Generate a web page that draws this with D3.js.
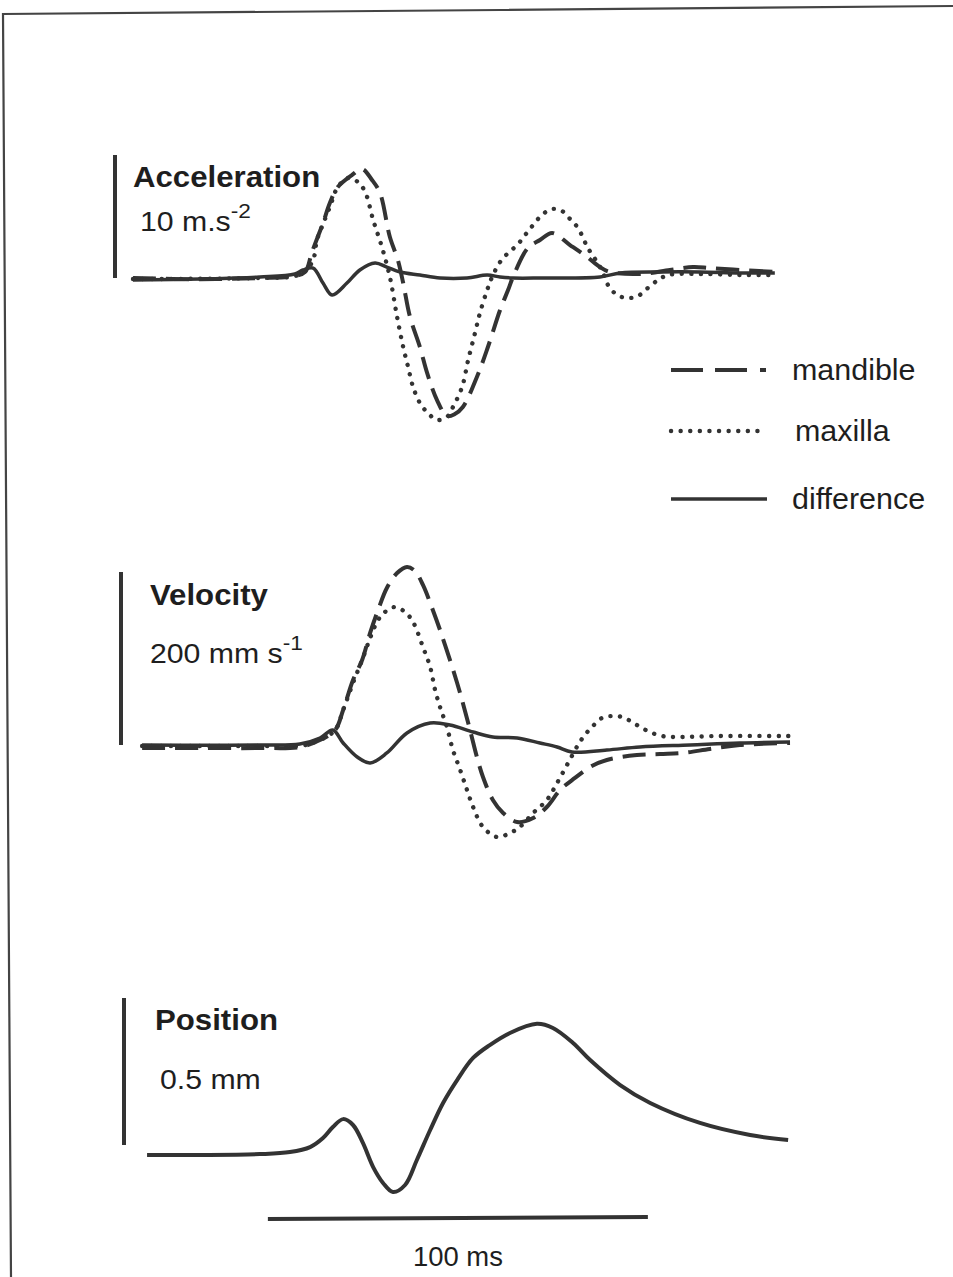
<!DOCTYPE html>
<meta charset="utf-8"/>
<style>
  body { margin: 0; background: #fff; }
  svg { display: block; }
  text { font-family: "Liberation Sans", Arial, sans-serif; fill: #1e1e1e; }
  .title { font-weight: bold; font-size: 30px; }
  .unit { font-size: 28px; }
  .legend text { font-size: 29px; }
  .trace { fill: none; stroke: #333; stroke-linejoin: round; }
  .mandible { stroke-width: 4; stroke-dasharray: 23,10; }
  .maxilla { stroke-width: 4.4; stroke-dasharray: 0.1,9.5; stroke-linecap: round; }
  .difference { stroke-width: 3.5; }
  .bar { stroke: #333; stroke-width: 4; }
  .frame { stroke: #444; stroke-width: 2.2; fill: none; }
</style>
<svg width="953" height="1277"></svg>
<script src="https://d3js.org/d3.v7.min.js"></script>
<script>

  // time in ms, values in panel units
  var accMandible = [[0,0],[17.6,-0.1],[33.4,0],[42.6,0.16],[45.3,0.49],[47.1,2.11],[50,4.47],[51.8,6.1],[53.9,7.4],
    [57.6,8.37],[60.3,8.86],[62.9,7.97],[65,6.91],[67.6,3.33],[69.7,1.46],[71.1,-0.41],[72.9,-3.17],[75.5,-5.61],
    [77.4,-7.72],[80,-9.92],[82.6,-11.22],[84.7,-11.06],[86.8,-10.49],[90.5,-8.05],[93.4,-5.61],[96.6,-2.6],
    [98.7,-0.98],[100,0.08],[103.9,2.44],[107.1,3.09],[110.3,3.66],[115,2.68],[119.5,1.71],[122.9,0.89],
    [125.5,0.49],[133.4,0.33],[141.3,0.65],[147.4,0.89],[151.8,0.81],[159.7,0.65],[168.9,0.49]];
  var accMaxilla = [[0,-0.08],[33.4,0],[42.6,0.16],[45.3,0.57],[47.4,1.46],[48.4,3.09],[49.7,4.15],[51.8,5.77],
    [53.9,7.4],[56.6,8.13],[59.2,7.8],[61.1,6.99],[63.2,4.72],[65.5,2.52],[67.6,0.08],[69.5,-3.17],[71.1,-5.61],
    [72.4,-7.24],[73.7,-8.86],[75.5,-10.16],[77.6,-10.98],[80,-11.54],[82.6,-11.3],[84.2,-10.49],[86.6,-8.86],
    [88.2,-6.67],[90,-4.47],[91.3,-2.85],[93.2,-0.98],[94.5,0.08],[96.6,1.3],[98.7,2.03],[101.1,2.68],[103.2,3.5],
    [105.3,4.31],[107.6,5.12],[110.3,5.61],[112.9,5.45],[115,4.8],[117.1,4.07],[119.7,2.44],[122.1,1.3],
    [123.7,0.41],[125,-0.57],[127.4,-1.38],[130.3,-1.63],[132.9,-1.46],[135.5,-0.81],[138.2,-0.16],[140.8,0.24],
    [149.2,0.33],[159.7,0.24],[168.4,0.24]];
  var accDiff = [[0,-0.16],[17.6,-0.08],[33.4,0.08],[42.6,0.33],[44.7,0.65],[47.4,0.81],[50,-0.41],[52.4,-1.38],
    [56.3,-0.41],[59.7,0.65],[63.7,1.22],[66.8,0.89],[70.3,0.49],[75.5,0.24],[80.8,0],[87.9,0],[93.2,0.24],
    [96.6,0.08],[100,0],[107.1,0],[122.9,0.08],[128.2,0.41],[138.7,0.49],[149.2,0.49],[159.7,0.41],[168.9,0.41]];

  var velMandible = [[2.4,-3.5],[17.6,-3.5],[33.4,-3.5],[43.9,-2.3],[49.2,5.8],[53.2,17.3],[55.3,40.5],[57.9,75.1],
    [60.3,98.3],[62.4,129.5],[64.5,156.1],[66.8,181.5],[69.5,198.8],[72.1,205.8],[74.2,201.1],[76.3,185],
    [78.9,156.1],[80.8,132.9],[83.4,98.3],[85.3,71.7],[86.8,48.6],[88.7,17.3],[90.5,-13.9],[92.1,-37],
    [94.7,-63.6],[97.4,-78.6],[101.1,-89],[105.3,-84.4],[108.9,-71.7],[112.4,-52],[116.3,-38.1],[120.3,-25.4],
    [124.7,-17.3],[132.6,-11.6],[138.7,-10.4],[144.7,-9.2],[151.8,-4.6],[159.7,0],[172.9,2.3]];
  var velMaxilla = [[2.4,-1.2],[33.4,-1.2],[43.9,-1.2],[49.2,5.8],[53.2,17.3],[55.3,40.5],[57.9,71.7],[60.3,98.3],
    [62.4,123.7],[64.5,144.5],[66.3,153.7],[68.9,159.5],[71.6,153.7],[73.7,142.2],[76.3,113.3],[78.2,90.2],
    [79.5,63.6],[80.8,43.9],[82.6,20.8],[84.2,-5.8],[86.1,-28.9],[87.9,-52],[89.5,-71.7],[92.1,-94.8],
    [95.8,-106.4],[99.2,-101.7],[101.8,-94.8],[105.3,-78.6],[108.9,-63.6],[111.6,-43.9],[114.5,-20.8],[117.1,0],
    [118.9,11.6],[120.8,20.8],[123.4,31.2],[126.1,33.5],[128.7,32.4],[131.3,26.6],[133.9,19.7],[136.6,13.9],
    [139.2,10.4],[142.1,9.2],[154.5,10.4],[172.9,10.4]];
  var velDiff = [[2.4,0],[33.4,0],[43.9,1.2],[49.2,8.1],[52.6,17.3],[55.3,2.3],[59,-13.9],[62.4,-20.8],[66.8,-9.2],
    [72.1,13.9],[78.2,25.4],[83.4,23.1],[89.5,15],[94.7,9.2],[101.1,8.1],[107.1,2.3],[111.6,-2.3],[115.5,-8.1],
    [124.7,-5.8],[133.4,-2.3],[146.6,0],[159.7,2.3],[172.9,3.5]];

  var posDiff = [[3.7,-0.034],[17.6,-0.034],[33.4,-0.031],[41.3,-0.024],[46.6,-0.007],[50,0.024],[52.6,0.061],
    [55.3,0.088],[57.9,0.068],[60.5,0.007],[63.2,-0.075],[65.8,-0.129],[68.4,-0.16],[71.6,-0.136],[74.7,-0.051],
    [78.2,0.051],[81.6,0.143],[85.3,0.221],[89.5,0.296],[93.9,0.34],[99.2,0.381],[106.3,0.412],[110.5,0.398],
    [115.8,0.347],[120.3,0.289],[128.2,0.204],[136.1,0.143],[149.2,0.075],[162.4,0.034],[172.4,0.017]];

  var legendLabels = ["mandible", "maxilla", "difference"];
  var timeBar = [35.5, 135.5];   // 100 ms

  var svg = d3.select("svg");

  // frame of the scanned page
  svg.append("path").attr("class", "frame")
    .attr("d", "M953,6 L500,10 L3,14 L11,1277");

  var x = d3.scaleLinear().domain([0, 100]).range([133, 513]);

  var panels = [
    { title: "Acceleration", unit: "10 m.s", sup: "-2", bar: [0, 10], barX: 115,
      y: d3.scaleLinear().domain([0, 10]).range([278, 155]),
      tx: 133, ty: 187, ux: 140, uy: 231,
      series: [["mandible", accMandible], ["maxilla", accMaxilla], ["difference", accDiff]] },
    { title: "Velocity", unit: "200 mm s", sup: "-1", bar: [0, 200], barX: 121,
      y: d3.scaleLinear().domain([0, 200]).range([745, 572]),
      tx: 150, ty: 605, ux: 150, uy: 663,
      series: [["mandible", velMandible], ["maxilla", velMaxilla], ["difference", velDiff]] },
    { title: "Position", unit: "0.5 mm", sup: "", bar: [0, 0.5], barX: 124,
      y: d3.scaleLinear().domain([0, 0.5]).range([1145, 998]),
      tx: 155, ty: 1030, ux: 160, uy: 1089,
      series: [["difference", posDiff]] }
  ];

  panels.forEach(function (p, k) {
    var g = svg.append("g");

    g.append("line").attr("class", "bar")
      .attr("x1", p.barX).attr("x2", p.barX)
      .attr("y1", p.y(p.bar[0])).attr("y2", p.y(p.bar[1]));

    g.append("text").attr("class", "title")
      .attr("transform", "translate(" + p.tx + "," + p.ty + ") scale(1.04,1)")
      .text(p.title);

    var u = g.append("text").attr("class", "unit")
      .attr("transform", "translate(" + p.ux + "," + p.uy + ") scale(1.08,1)")
      .text(p.unit);
    if (p.sup) u.append("tspan").attr("dy", -13).style("font-size", "21px").text(p.sup);

    var line = d3.line()
      .x(function (d) { return x(d[0]); })
      .y(function (d) { return p.y(d[1]); })
      .curve(d3.curveCatmullRom.alpha(0.5));

    p.series.forEach(function (s) {
      g.append("path").attr("class", "trace " + s[0])
        .attr("d", line(s[1]))
        .style("stroke-width", k == 2 ? 4 : null);
    });
  });

  // legend
  var leg = svg.append("g").attr("class", "legend");
  var legY = [370, 431, 499];
  legendLabels.forEach(function (name, i) {
    leg.append("line").attr("class", "trace " + name)
      .attr("x1", 671).attr("x2", 767)
      .attr("y1", legY[i]).attr("y2", legY[i])
      .style("stroke-dasharray", name == "mandible" ? "32,12,32,13,6" : null);
    leg.append("text")
      .attr("transform", "translate(" + (i == 1 ? 795 : 792) + "," + (legY[i] + 10) + ") scale(1.05,1)")
      .text(name);
  });

  // time scale bar
  svg.append("line").attr("class", "bar")
    .attr("x1", x(timeBar[0])).attr("x2", x(timeBar[1]))
    .attr("y1", 1219).attr("y2", 1217);
  svg.append("text")
    .attr("class", "unit")
    .attr("text-anchor", "middle")
    .attr("transform", "translate(" + x((timeBar[0] + timeBar[1]) / 2) + ",1266) scale(0.98,1)")
    .text("100 ms");

</script>
